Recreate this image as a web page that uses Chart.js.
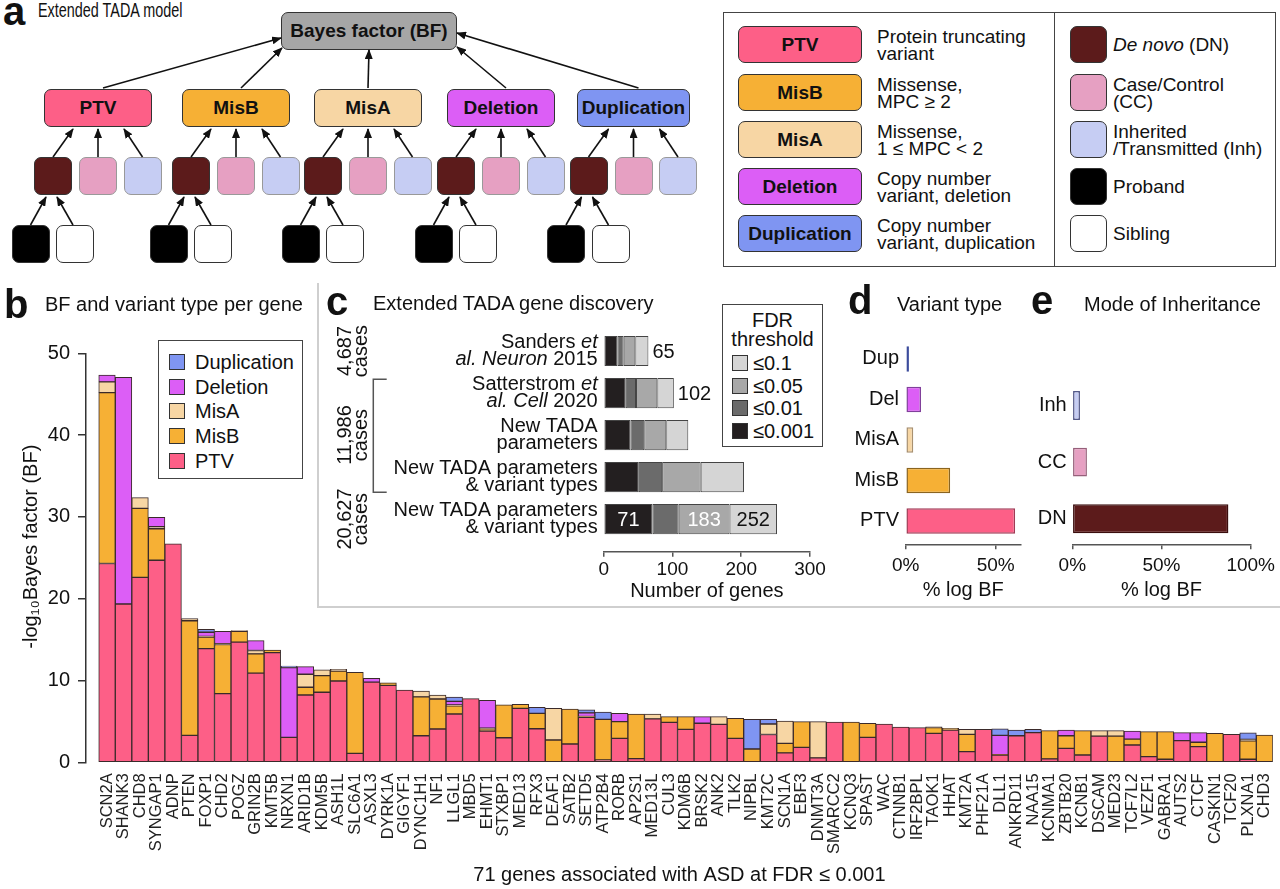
<!DOCTYPE html>
<html>
<head>
<meta charset="utf-8">
<script src="https://cdn.jsdelivr.net/npm/chart.js@4.4.1/dist/chart.umd.min.js"></script>
<style>
body { margin: 0; background: #fff; font-family: 'Liberation Sans', Arial, sans-serif; color: #111; }
#fig { position: relative; width: 1280px; height: 889px; overflow: hidden; }
.abs { position: absolute; }
.box { position: absolute; border: 1px solid #333; border-radius: 7px; box-sizing: border-box;
       display: flex; align-items: center; justify-content: center; font-weight: bold; font-size: 19px; }
.letter { position: absolute; font-weight: bold; font-size: 40px; line-height: 1; }
.ttl { position: absolute; font-size: 20px; line-height: 1; white-space: nowrap; }
.txt { position: absolute; font-size: 19px; line-height: 17px; white-space: nowrap; }
canvas { position: absolute; }
.lg { position: absolute; border: 1px solid #444; background: #fff; box-sizing: border-box; }
.sw { position: absolute; width: 16px; height: 16px; border: 1px solid #333; box-sizing: border-box; }
</style>
</head>
<body>
<div id="fig">
  <canvas id="bChart" width="1280" height="609" style="left:0;top:280px"></canvas>
  <div class="abs" style="left:317px;top:283px;width:2px;height:325px;background:#cfcfcf"></div>
  <div class="abs" style="left:317px;top:606px;width:963px;height:2px;background:#cfcfcf"></div>
  <canvas id="cChart" width="510" height="325" style="left:320px;top:283px"></canvas>
  <canvas id="dChart" width="210" height="288" style="left:830px;top:320px"></canvas>
  <canvas id="eChart" width="250" height="288" style="left:1030px;top:320px"></canvas>

  <div class="letter" style="left:3px;top:-9px">a</div>
  <div class="ttl" style="left:38px;top:0px;transform:scaleX(0.72);transform-origin:0 0">Extended TADA model</div>
  <div class="letter" style="left:4px;top:284px">b</div>
  <div class="ttl" style="left:45px;top:294px">BF and variant type per gene</div>
  <div class="letter" style="left:326px;top:281px">c</div>
  <div class="ttl" style="left:373px;top:293px">Extended TADA gene discovery</div>
  <div class="letter" style="left:848px;top:280px">d</div>
  <div class="ttl" style="left:897px;top:294px">Variant type</div>
  <div class="letter" style="left:1031px;top:280px">e</div>
  <div class="ttl" style="left:1084px;top:294px">Mode of Inheritance</div>
</div>
<script>
// ---- panel b data: 71 genes, -log10 BF split by variant type ----
const genes = ['SCN2A','SHANK3','CHD8','SYNGAP1','ADNP','PTEN','FOXP1','CHD2','POGZ','GRIN2B',
  'KMT5B','NRXN1','ARID1B','KDM5B','ASH1L','SLC6A1','ASXL3','DYRK1A','GIGYF1','DYNC1H1',
  'NF1','LLGL1','MBD5','EHMT1','STXBP1','MED13','RFX3','DEAF1','SATB2','SETD5',
  'ATP2B4','RORB','AP2S1','MED13L','CUL3','KDM6B','BRSK2','ANK2','TLK2','NIPBL',
  'KMT2C','SCN1A','EBF3','DNMT3A','SMARCC2','KCNQ3','SPAST','WAC','CTNNB1','IRF2BPL',
  'TAOK1','HHAT','KMT2A','PHF21A','DLL1','ANKRD11','NAA15','KCNMA1','ZBTB20','KCNB1',
  'DSCAM','MED23','TCF7L2','VEZF1','GABRA1','AUTS2','CTCF','CASKIN1','TCF20','PLXNA1','CHD3'];
const ptv = [24.3,19.35,22.6,24.7,26.7,3.3,13.9,8.4,14.7,10.9,
  13.4,3.05,8.23,8.56,9.94,1.1,9.8,9.4,8.84,3.25,
  4.07,5.9,7.78,3.83,3.0,6.6,4.1,0,2.24,5.5,
  0.28,2.93,0.45,5.3,4.88,4.03,4.77,4.64,2.93,0,
  3.4,1.15,1.82,0.55,4.93,0,3.05,4.68,4.3,4.23,
  3.54,3.95,1.3,4.03,0.89,3.25,3.62,0.41,1.71,0.89,
  3.2,0,2.11,0.7,0.37,2.64,1.91,0,3.42,0.37,0];
const misB = [20.9,0,8.45,3.85,0,14.0,1.4,6.0,1.3,2.36,
  0.33,0,0.94,2.04,1.22,9.9,0,0.3,0,4.74,
  3.67,1.0,0,0.25,4.04,0.48,1.89,2.73,4.26,0.1,
  4.96,2.04,5.45,0,0.7,1.55,0,0,2.45,1.63,
  0,1.17,3.15,0,0,4.93,1.72,0,0,0,
  0.69,0.2,2.12,0,0.05,0,0,3.46,1.54,2.98,
  0,3.2,0.73,3.05,3.38,0,0.54,3.54,0,2.24,3.34];
const misA = [1.3,0,1.3,0.25,0,0.28,0.1,0.1,0.1,0.41,
  0,0,1.59,0.69,0.2,0,0,0,0,0.73,
  0.49,0.1,0,0.1,0,0,0,3.87,0,0,
  0,0,0,0.6,0,0,0,0.94,0,0,
  1.28,2.73,0,4.42,0,0,0,0,0,0,
  0.1,0,0.61,0,0,0,0,0,0,0,
  0.67,0.67,0,0,0,0,0,0,0,0.19,0];
const deletion = [0.85,27.7,0,1.15,0,0,0.5,1.5,0,1.2,
  0,8.52,0.93,0,0,0,0.47,0,0,0,
  0,0.45,0,3.4,0,0,0,0,0,0.45,
  0,1.03,0,0,0,0,0.81,0,0,0,
  0,0,0,0,0,0,0,0,0,0,
  0,0,0,0,2.36,0,0,0,0.7,0,
  0,0,0.99,0,0,0.98,1.17,0,0,0,0];
const duplication = [0,0,0,0,0,0,0.35,0,0,0,
  0,0.2,0,0,0,0,0,0,0,0,
  0,0.53,0,0,0,0,0.73,0,0,0.35,
  0.9,0,0,0,0,0,0,0,0,3.61,
  0.56,0,0,0,0,0,0,0,0,0,
  0,0,0,0,0.78,0.7,0.41,0,0,0,
  0,0,0,0,0,0,0,0,0,0.81,0];
const typeNames = ['PTV','MisB','MisA','Deletion','Duplication'];
const typeColors = ['#fd5f87','#f6b035','#f7d6a4','#dc5ef6','#7f95f2'];

// ---- panel c data: genes found per FDR threshold (increments) ----
const fdrNames = ['≤0.001','≤0.01','≤0.05','≤0.1'];
const fdrColors = ['#231f20','#6b6b6b','#a8a8a8','#d5d5d5'];
const fdr001 = [20,32,39,51,71];
const fdr01 = [9,15,20,34,38];
const fdr05 = [17,31,32,56,74];
const fdr1 = [19,24,32,63,69];
const studyLabels = [
  [[['Sanders ',0],['et',1]], [['al. Neuron',1],[' 2015',0]]],
  [[['Satterstrom ',0],['et',1]], [['al. Cell',1],[' 2020',0]]],
  [[['New TADA',0]], [['parameters',0]]],
  [[['New TADA parameters',0]], [['& variant types',0]]],
  [[['New TADA parameters',0]], [['& variant types',0]]]
];
const caseLabels = [['4,687','cases',0],['11,986','cases',2],['20,627','cases',4]];

// ---- panels d, e data: % of log BF ----
const variantTypes = ['Dup','Del','MisA','MisB','PTV'];
const variantShare = [1.8,8.5,4.2,24.7,60.8];
const inheritTypes = ['Inh','CC','DN'];
const inheritShare = [4.3,8.2,87.5];

const FONT = "'Liberation Sans', Arial, sans-serif";
Chart.defaults.font.family = FONT;
Chart.defaults.color = '#111';

const fig = document.getElementById('fig');

function el(cls, css, html) {
    const d = document.createElement('div');
    d.className = cls;
    d.style.cssText = css;
    if (html) d.innerHTML = html;
    fig.appendChild(d);
    return d;
}

// ---------- panel a: model diagram ----------
function drawDiagram() {
    const dn = '#5c1b1b', cc = '#e6a0c2', inh = '#c6cdf3';
    el('box', 'left:281px;top:12px;width:176px;height:38px;background:#a6a6a6', 'Bayes factor (BF)');
    const lefts = [44,182,314,447,577], widths = [108,108,108,108,113];
    const ends = [[281,38],[282,48],[369,50],[457,47],[457,33]];
    let svg = '<svg class="abs" width="720" height="280" style="left:0;top:0;position:absolute">' +
        '<defs><marker id="ah" markerWidth="10" markerHeight="8" refX="9" refY="4" orient="auto" markerUnits="userSpaceOnUse">' +
        '<path d="M0,0 L10,4 L0,8 z" fill="#111"/></marker></defs>';
    const arrow = (x1, y1, x2, y2) => {
        svg += `<line x1="${x1}" y1="${y1}" x2="${x2}" y2="${y2}" stroke="#111" stroke-width="1.6" marker-end="url(#ah)"/>`;
    };
    lefts.forEach((l, g) => {
        const w = widths[g], c = l + w / 2;
        el('box', `left:${l}px;top:89px;width:${w}px;height:38px;background:${typeColors[g]}`, typeNames[g]);
        arrow(c + 5 - (g === 2 ? 5 : 0), 88, ends[g][0], ends[g][1]);
        const dc = c - 45, bc = c + 44.5;
        el('box', `left:${dc - 19}px;top:157px;width:38px;height:38px;background:${dn}`);
        el('box', `left:${c - 19}px;top:157px;width:38px;height:38px;background:${cc};border-color:#999`);
        el('box', `left:${bc - 19}px;top:157px;width:38px;height:38px;background:${inh};border-color:#999`);
        arrow(dc, 157, c - 25, 129);
        arrow(c, 157, c, 129);
        arrow(bc, 157, c + 26, 129);
        const pc = dc - 22.5, sc = dc + 22;
        el('box', `left:${pc - 19}px;top:225px;width:38px;height:38px;background:#000`);
        el('box', `left:${sc - 19}px;top:225px;width:38px;height:38px;background:#fff`);
        arrow(pc, 225, dc - 7, 197);
        arrow(sc - 2, 225, dc + 4, 197);
    });
    svg += '</svg>';
    const holder = document.createElement('div');
    holder.innerHTML = svg;
    fig.appendChild(holder.firstChild);

    // legend box
    el('lg', 'left:723px;top:12px;width:553px;height:255px');
    el('abs', 'left:1054px;top:12px;width:1px;height:255px;background:#444');
    const descr = [['Protein truncating','variant'],['Missense,','MPC ≥ 2'],['Missense,','1 ≤ MPC &lt; 2'],
                   ['Copy number','variant, deletion'],['Copy number','variant, duplication']];
    const rows = [26,74,121,168,215];
    rows.forEach((t, i) => {
        el('box', `left:738px;top:${t}px;width:124px;height:37px;background:${typeColors[i]}`, typeNames[i]);
        el('txt', `left:877px;top:${t + 2}px`, descr[i].join('<br>'));
    });
    const rc = [dn, cc, inh, '#000', '#fff'];
    const rt = [['<i>De novo</i> (DN)'],['Case/Control','(CC)'],['Inherited','/Transmitted (Inh)'],['Proband'],['Sibling']];
    rows.forEach((t, i) => {
        el('box', `left:1070px;top:${t}px;width:37px;height:37px;background:${rc[i]}`);
        el('txt', `left:1113px;top:${t + (rt[i].length === 1 ? 10 : 2)}px`, rt[i].join('<br>'));
    });
}

// ---------- panel b ----------
function pts(arr) {
    return arr.map((v, i) => ({ x: i, y: v > 0 ? v : null }));
}

function createGeneChart() {
    const series = [ptv, misB, misA, deletion, duplication];
    new Chart(document.getElementById('bChart'), {
        type: 'bar',
        data: {
            datasets: series.map((arr, k) => ({
                label: typeNames[k],
                data: pts(arr),
                backgroundColor: typeColors[k],
                borderColor: '#3a2a2a',
                borderWidth: 1,
                borderSkipped: false,
                barPercentage: 1,
                categoryPercentage: 1
            }))
        },
        options: {
            responsive: false,
            animation: false,
            layout: { padding: { top: 73.3, right: 7, left: 0, bottom: 0 } },
            plugins: { legend: { display: false }, tooltip: { enabled: false } },
            scales: {
                x: {
                    type: 'linear', stacked: true, min: -1.27, max: 70.5, offset: false,
                    grid: { display: false }, border: { display: false },
                    ticks: {
                        stepSize: 1, includeBounds: false, autoSkip: false,
                        minRotation: 90, maxRotation: 90, padding: 3,
                        font: { size: 16.5, lineHeight: 0.75 }, color: '#222',
                        callback: v => genes[v] || ''
                    },
                    title: { display: true, text: '71 genes associated with ASD at FDR ≤ 0.001',
                             font: { size: 20 }, padding: { top: 0, bottom: 2 } },
                    afterFit: s => { s.height = 126.7; }
                },
                y: {
                    stacked: true, min: 0, max: 50,
                    ticks: { stepSize: 10, font: { size: 20 }, padding: 8 },
                    grid: { drawOnChartArea: false, drawTicks: true, tickLength: 8, color: '#333', lineWidth: 1.5 },
                    border: { display: true, color: '#333', width: 1.5 },
                    title: { display: true, text: '    -log₁₀Bayes factor (BF)', font: { size: 20 }, padding: { top: 19, bottom: 0 } },
                    afterFit: s => { s.width = 86; }
                }
            }
        }
    });

    // legend
    el('lg', 'left:158px;top:340px;width:145px;height:139px');
    [4, 3, 2, 1, 0].forEach((k, i) => {
        const yc = 361.7 + i * 24.8;
        el('sw', `left:169px;top:${yc - 8}px;background:${typeColors[k]}`);
        el('ttl', `left:195px;top:${yc - 10}px`, typeNames[k]);
    });
}

// ---------- panel c ----------
const panelCText = {
    id: 'panelCText',
    afterDraw(chart) {
        const { ctx, chartArea, scales: { y } } = chart;
        ctx.save();
        ctx.fillStyle = '#111';
        ctx.textBaseline = 'alphabetic';
        studyLabels.forEach((lines, row) => {
            const yc = y.getPixelForValue(row);
            lines.forEach((segs, li) => {
                const by = yc + (li === 0 ? -2.7 : 14);
                let xr = chartArea.left - 6;
                for (let k = segs.length - 1; k >= 0; k--) {
                    const [t, it] = segs[k];
                    ctx.font = (it ? 'italic ' : '') + '20px ' + FONT;
                    const w = ctx.measureText(t).width;
                    ctx.textAlign = 'left';
                    ctx.fillText(t, xr - w, by);
                    xr -= w;
                }
            });
        });
        // cohort sizes, rotated
        ctx.font = '20px ' + FONT;
        ctx.textAlign = 'center';
        caseLabels.forEach(([a, b, row]) => {
            const yc = y.getPixelForValue(row);
            ctx.save();
            ctx.translate(30.5, yc);
            ctx.rotate(-Math.PI / 2);
            ctx.fillText(a, 0, 0);
            ctx.restore();
            ctx.save();
            ctx.translate(46.5, yc);
            ctx.rotate(-Math.PI / 2);
            ctx.fillText(b, 0, 0);
            ctx.restore();
        });
        // bracket for the 11,986 cohort
        const t = y.getPixelForValue(0.674), b = y.getPixelForValue(3.364);
        ctx.strokeStyle = '#555';
        ctx.lineWidth = 1.5;
        ctx.beginPath();
        ctx.moveTo(66.7, t); ctx.lineTo(53.3, t); ctx.lineTo(53.3, b); ctx.lineTo(66.7, b);
        ctx.stroke();
        // bar counts
        const sets = [fdr001, fdr01, fdr05, fdr1];
        const cum = (row, upto) => sets.slice(0, upto + 1).reduce((s, a) => s + a[row], 0);
        const marks = [[0, 3, 'out'], [1, 3, 'out'], [4, 0, '#fff'], [4, 2, '#fff'], [4, 3, '#111']];
        ctx.textBaseline = 'middle';
        marks.forEach(([row, upto, how]) => {
            const bar = chart.getDatasetMeta(upto).data[row];
            const txt = String(cum(row, upto));
            if (how === 'out') {
                ctx.fillStyle = '#111';
                ctx.textAlign = 'left';
                ctx.fillText(txt, bar.x + 4, bar.y + 1);
            } else {
                ctx.fillStyle = how;
                ctx.textAlign = 'center';
                ctx.fillText(txt, (bar.x + bar.base) / 2, bar.y + 1);
            }
        });
        ctx.restore();
    }
};

function createDiscoveryChart() {
    const sets = [fdr001, fdr01, fdr05, fdr1];
    new Chart(document.getElementById('cChart'), {
        type: 'bar',
        data: {
            datasets: sets.map((arr, k) => ({
                label: fdrNames[k],
                data: arr.map((v, i) => ({ x: v, y: i })),
                backgroundColor: fdrColors[k],
                borderColor: '#444',
                borderWidth: 1,
                borderSkipped: false,
                barPercentage: 0.72,
                categoryPercentage: 1
            }))
        },
        options: {
            indexAxis: 'y',
            responsive: false,
            animation: false,
            layout: { padding: { left: 283.7, right: 20, top: 47, bottom: 0 } },
            plugins: { legend: { display: false }, tooltip: { enabled: false } },
            scales: {
                x: {
                    type: 'linear', stacked: true, min: 0, max: 300,
                    ticks: { stepSize: 100, padding: 2, font: { size: 19 } },
                    grid: { drawOnChartArea: false, tickLength: 5, color: '#555', lineWidth: 1.5 },
                    border: { color: '#555', width: 1.5 },
                    title: { display: true, text: 'Number of genes', font: { size: 20 }, padding: { top: 0, bottom: 5 } },
                    afterFit: s => { s.height = 56.3; }
                },
                y: { type: 'linear', stacked: true, reverse: true, min: -0.5, max: 4.778, display: false,
                     offset: false, ticks: { stepSize: 1, includeBounds: false } }
            }
        },
        plugins: [panelCText]
    });

    // FDR legend
    el('lg', 'left:722px;top:304px;width:101px;height:143px');
    el('ttl', 'left:722px;top:310px;width:101px;text-align:center', 'FDR');
    el('ttl', 'left:722px;top:329px;width:101px;text-align:center', 'threshold');
    [3, 2, 1, 0].forEach((k, i) => {
        const yc = 362.7 + i * 22.8;
        el('sw', `left:732px;top:${yc - 8}px;background:${fdrColors[k]}`);
        el('ttl', `left:753px;top:${yc - 10}px`, fdrNames[k]);
    });
}

// ---------- panels d, e ----------
function createShareChart(id, cats, shares, colors, borders, opt) {
    new Chart(document.getElementById(id), {
        type: 'bar',
        data: {
            datasets: [{
                data: shares.map((v, i) => ({ x: v, y: i })),
                backgroundColor: colors,
                borderColor: borders,
                borderWidth: 1.5,
                borderSkipped: false,
                barPercentage: opt.bar,
                categoryPercentage: 1
            }]
        },
        options: {
            indexAxis: 'y',
            responsive: false,
            animation: false,
            layout: { padding: { left: 0, right: opt.right, top: opt.top, bottom: 0 } },
            plugins: { legend: { display: false }, tooltip: { enabled: false } },
            scales: {
                x: {
                    type: 'linear', min: 0, max: opt.max,
                    ticks: { stepSize: 50, includeBounds: false, padding: 5, font: { size: 19 }, callback: v => v + '%' },
                    grid: { drawOnChartArea: false, tickLength: 5, color: '#555', lineWidth: 1.5 },
                    border: { color: '#555', width: 1.5 },
                    title: { display: true, text: '% log BF', font: { size: 20 }, padding: { top: 0, bottom: 6 } },
                    afterFit: s => { s.height = 63.7; }
                },
                y: {
                    type: 'linear', reverse: true, min: -0.5, max: opt.ymax, offset: false,
                    ticks: { stepSize: 1, includeBounds: false, padding: opt.pad, font: { size: 20 }, callback: v => cats[v] || '' },
                    grid: { display: false, drawTicks: false },
                    border: { display: false },
                    afterFit: s => { s.width = opt.left; }
                }
            }
        }
    });
}

drawDiagram();
createGeneChart();
createDiscoveryChart();
createShareChart('dChart', variantTypes, variantShare,
    [typeColors[4], typeColors[3], typeColors[2], typeColors[1], typeColors[0]],
    ['#3c4c9c', '#80409a', '#a89070', '#8a6420', '#a03a55'],
    { bar: 0.63, right: 19.3, top: 13.5, max: 63.9, ymax: 4.578, left: 75.7, pad: 6.7 });
createShareChart('eChart', inheritTypes, inheritShare,
    ['#c6cdf3', '#e6a0c2', '#5c1b1b'],
    ['#555a88', '#96607a', '#3a0d0d'],
    { bar: 0.51, right: 27.3, top: 57.2, max: 100, ymax: 2.452, left: 42.3, pad: 5.6 });
</script>
</body>
</html>
